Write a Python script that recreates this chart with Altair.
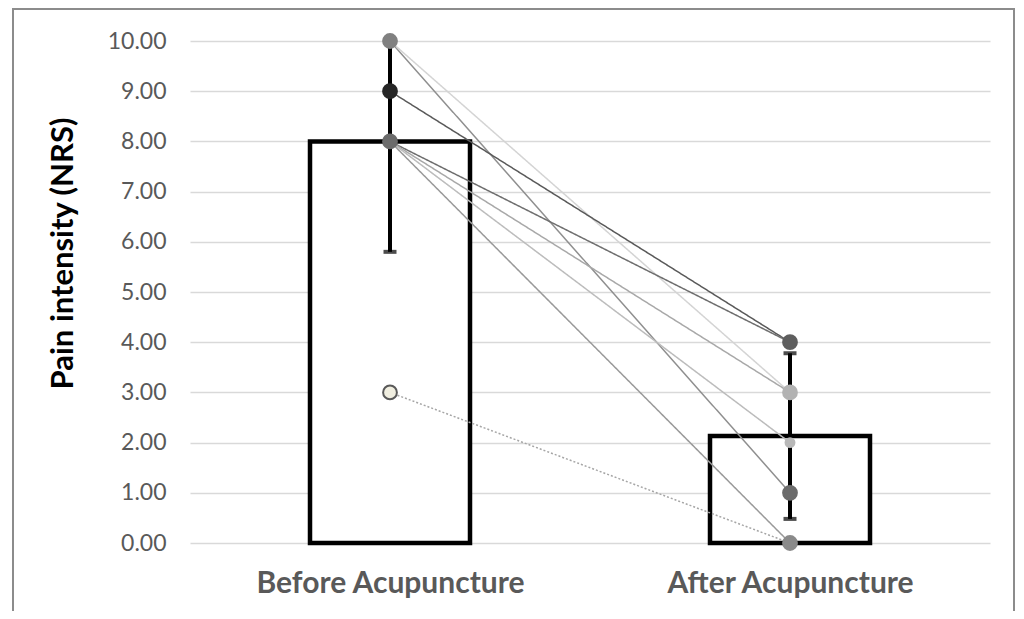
import altair as alt
import pandas as pd

# ---- data ----
phases = ["Before Acupuncture", "After Acupuncture"]
phase_pos = [0.5, 1.5]
means = [8.0, 2.13]
err_low = [5.8, 0.48]
err_high = [10.0, 3.78]

subjects = ["S1", "S2", "S3", "S4", "S5", "S6", "S7", "S8"]
before = [10, 10, 9, 8, 8, 8, 8, 3]
after = [1, 3, 4, 4, 3, 2, 0, 0]
line_colors = ["#8f8f8f", "#d4d4d4", "#595959", "#6e6e6e", "#a8a8a8", "#bcbcbc", "#999999", "#a6a6a6"]
line_style = ["solid", "solid", "solid", "solid", "solid", "solid", "solid", "dotted"]

marker_keys = ["B10", "B9", "B8", "B3", "A4", "A3", "A2", "A1", "A0"]
marker_phase = [0, 0, 0, 0, 1, 1, 1, 1, 1]
marker_value = [10, 9, 8, 3, 4, 3, 2, 1, 0]
marker_fill = ["#808080", "#262626", "#6b6b6b", "#f0eee0", "#5e5e5e", "#b2b2b2", "#b8b8b8", "#6b6b6b", "#8a8a8a"]
marker_stroke = ["#808080", "#262626", "#6b6b6b", "#595959", "#5e5e5e", "#b2b2b2", "#b8b8b8", "#6b6b6b", "#8a8a8a"]
marker_small = [False, False, False, False, False, False, True, False, False]

FONT = "Lato"
BAR_HALF = 0.2

summary = pd.DataFrame({"phase": phases, "pos": phase_pos, "mean": means,
                        "lo": err_low, "hi": err_high})
lines = pd.DataFrame(
    [{"subject": s, "pos": phase_pos[0], "value": b, "style": st}
     for s, b, st in zip(subjects, before, line_style)]
    + [{"subject": s, "pos": phase_pos[1], "value": a, "style": st}
       for s, a, st in zip(subjects, after, line_style)]
)
markers = pd.DataFrame({"key": marker_keys,
                        "pos": [phase_pos[i] for i in marker_phase],
                        "value": marker_value,
                        "small": ["small" if m else "big" for m in marker_small]})

label_expr = f"datum.value < 1 ? '{phases[0]}' : '{phases[1]}'"

x_scale = alt.Scale(domain=[0, 2], padding=0, nice=False, zero=False)
y_scale = alt.Scale(domain=[0, 10], padding=0, nice=False)

x_enc = alt.X("x0:Q", scale=x_scale,
              axis=alt.Axis(values=phase_pos, labelExpr=label_expr, title=None,
                            grid=False, domain=False, ticks=False, tickSize=0,
                            labelPadding=25, labelFont=FONT, labelFontSize=30,
                            labelFontWeight="bold", labelColor="#595959",
                            labelLimit=0, labelOverlap=False))
y_axis = alt.Axis(values=list(range(11)), format=".2f", grid=True,
                  gridColor="#d9d9d9", gridWidth=1.6, domain=False, ticks=False,
                  tickSize=0, labelPadding=24, labelFont=FONT, labelFontSize=23,
                  labelColor="#595959", title="Pain intensity (NRS)",
                  titleFont=FONT, titleFontSize=31, titleFontWeight="bold",
                  titleColor="black", titleX=-127, titleY=212, titleAngle=270,
                  titleAlign="center", titleBaseline="middle")

frame = alt.Chart(summary).mark_rect(fill=None, stroke="#8c8c8c", strokeWidth=2).encode(
    x=alt.value(-177), x2=alt.value(824), y=alt.value(-32), y2=alt.value(600)
)

bars = alt.Chart(summary).transform_calculate(
    x0=f"datum.pos - {BAR_HALF}", x1=f"datum.pos + {BAR_HALF}"
).mark_rect(fill="white", stroke="black", strokeWidth=4.5, strokeJoin="miter").encode(
    x=x_enc, x2="x1:Q", y=alt.Y("mean:Q", scale=y_scale, axis=y_axis), y2=alt.datum(0)
)

conn = alt.Chart(lines).mark_line(strokeWidth=1.5).encode(
    x=alt.X("pos:Q", scale=x_scale), y=alt.Y("value:Q", scale=y_scale),
    detail="subject:N",
    color=alt.Color("subject:N", scale=alt.Scale(domain=subjects, range=line_colors), legend=None),
    strokeDash=alt.StrokeDash("style:N", scale=alt.Scale(domain=["solid", "dotted"],
                                                         range=[[1, 0], [2, 2]]), legend=None),
)

err = alt.Chart(summary).mark_rule(color="black", strokeWidth=4).encode(
    x="pos:Q", y="lo:Q", y2="hi:Q"
)
cap_lo = alt.Chart(summary).mark_tick(orient="horizontal", size=13, thickness=4, color="black").encode(
    x="pos:Q", y="lo:Q"
)
cap_hi = alt.Chart(summary).mark_tick(orient="horizontal", size=13, thickness=4, color="black").encode(
    x="pos:Q", y="hi:Q"
)

points = alt.Chart(markers).mark_point(filled=True, opacity=1, strokeWidth=2).encode(
    x="pos:Q", y="value:Q",
    fill=alt.Fill("key:N", scale=alt.Scale(domain=marker_keys, range=marker_fill), legend=None),
    stroke=alt.Stroke("key:N", scale=alt.Scale(domain=marker_keys, range=marker_stroke), legend=None),
    size=alt.Size("small:N", scale=alt.Scale(domain=["big", "small"], range=[190, 80]), legend=None),
)

chart = alt.layer(frame, bars, conn, err, cap_lo, cap_hi, points).resolve_scale(
    color="independent", fill="independent", stroke="independent"
).properties(
    width=800, height=502,
    padding={"left": 182, "top": 33, "right": 26, "bottom": 68},
    autosize=alt.AutoSizeParams(type="none"),
    background="white",
).configure_view(stroke=None)

chart.save("out.html", embed_options={"renderer": "svg", "actions": False})
